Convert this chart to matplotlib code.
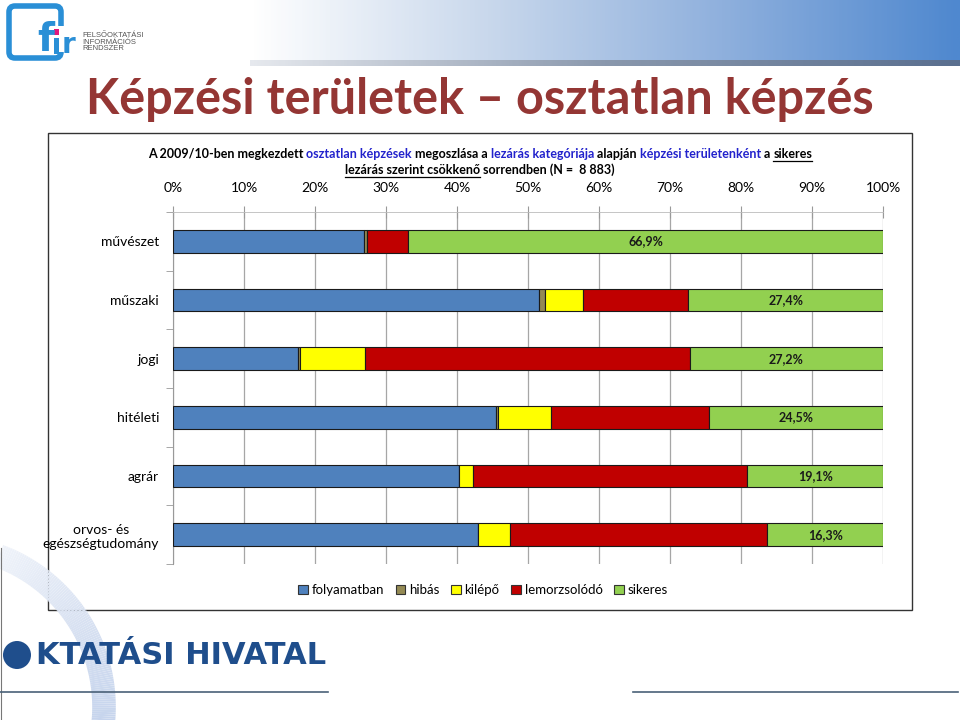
import numpy as np
import matplotlib
matplotlib.use("Agg")
import matplotlib.pyplot as plt
from matplotlib.patches import Rectangle, FancyBboxPatch, Circle, Patch
from matplotlib.collections import LineCollection
from matplotlib.colors import LinearSegmentedColormap

plt.rcParams['font.family'] = ['Lato', 'DejaVu Sans']

# adatok (százalék)
categories = ['művészet', 'műszaki', 'jogi', 'hitéleti', 'agrár', 'orvos- és\negészségtudomány']
folyamatban = [26.9, 51.5, 17.6, 45.5, 40.3, 43.0]
hibas = [0.4, 0.9, 0.3, 0.3, 0.0, 0.0]
kilepo = [0.0, 5.3, 9.1, 7.5, 2.0, 4.5]
lemorzsolodo = [5.8, 14.9, 45.8, 22.2, 38.6, 36.2]
sikeres = [66.9, 27.4, 27.2, 24.5, 19.1, 16.3]
series_names = ['folyamatban', 'hibás', 'kilépő', 'lemorzsolódó', 'sikeres']
series_colors = ['#4f81bd', '#948a54', '#ffff00', '#c00000', '#92d050']
xticks = np.arange(0, 101, 10)

W, H = 960, 720
fig = plt.figure(figsize=(9.6, 7.2), dpi=100, facecolor='white')


def fx(x):
    return x / W


def fy(y):
    return 1 - y / H


# háttér-réteg pixel koordinátákkal (díszítés)
bg = fig.add_axes([0, 0, 1, 1], zorder=-5)
bg.axis('off')

# fejléc: színátmenetes sáv
cmap = LinearSegmentedColormap.from_list('hdr', ['#ffffff', '#c9d8ec', '#8fb0dd', '#4f88cf'])
bg.imshow(np.linspace(0, 1, 300)[None, :], aspect='auto', cmap=cmap, extent=[250, 960, 60, 0])
cmap2 = LinearSegmentedColormap.from_list('sh', ['#e6e9ee', '#8a98ad', '#5a6f8f'])
bg.imshow(np.linspace(0, 1, 300)[None, :], aspect='auto', cmap=cmap2, extent=[250, 960, 66, 60])
bg.set_xlim(0, W)
bg.set_ylim(H, 0)

# logó
bg.add_patch(FancyBboxPatch((9, 6), 52, 52, boxstyle='round,pad=0,rounding_size=6',
                            facecolor='none', edgecolor='#2a8fd6', lw=4))
bg.add_patch(Rectangle((52, 26), 14, 26, facecolor='white', edgecolor='none'))
bg.text(46, 40, 'f', fontsize=28, fontweight='bold', color='#2a8fd6', ha='center', va='center',
        family=['DejaVu Sans'])
bg.add_patch(Rectangle((54, 38), 5, 16, facecolor='#2a8fd6', edgecolor='none'))
bg.add_patch(Rectangle((54, 29), 5, 6, facecolor='#e0197d', edgecolor='none'))
bg.text(69, 45, 'r', fontsize=20, fontweight='bold', color='#2a8fd6', ha='center', va='center',
        family=['DejaVu Sans'])
bg.text(82, 42, 'FELSŐOKTATÁSI\nINFORMÁCIÓS\nRENDSZER', fontsize=5.5, color='#555555',
        ha='left', va='center', linespacing=0.95, family=['Liberation Sans', 'DejaVu Sans'])

# cím
fig.text(fx(480), fy(99), 'Képzési területek – osztatlan képzés', fontsize=35, fontweight='bold',
         color='#943634', ha='center', va='center')

# lábléc díszítés: ív (színátmenettel)
th = np.linspace(-1.35, 0.2, 120)
px = -57 + 161 * np.cos(th)
py = 707 + 161 * np.sin(th)
segs = np.stack([np.column_stack([px[:-1], py[:-1]]), np.column_stack([px[1:], py[1:]])], axis=1)
arc_cmap = LinearSegmentedColormap.from_list('arc', ['#f3f6fb', '#d9e2f2', '#c3d2ec'])
lc = LineCollection(segs, cmap=arc_cmap, lw=17, capstyle='butt')
lc.set_array(np.linspace(0, 1, len(segs)))
bg.add_collection(lc)
bg.plot([0.5, 0.5], [548, 720], color='#777777', lw=0.8)
bg.add_patch(Circle((17, 655), 14, facecolor='#1f4e8c', edgecolor='none'))
bg.text(36, 656, 'KTATÁSI HIVATAL', fontsize=22, fontweight='bold', color='#1f4e8c',
        ha='left', va='center', family=['DejaVu Sans'])
bg.plot([0, 328], [692, 692], color='#4a6178', lw=1.2)
bg.plot([633, 958], [692, 692], color='#4a6178', lw=1.2)

# diagram kerete
bg.add_patch(Rectangle((48, 133), 864, 477, facecolor='none', edgecolor='#333333', lw=1.0))

# alcím színes szakaszokkal
renderer = fig.canvas.get_renderer()
blue_txt = '#2222cc'


def text_width(s, **kw):
    t = fig.text(0, 0, s + '|', **kw)
    w1 = t.get_window_extent(renderer).width
    t.remove()
    t = fig.text(0, 0, '|', **kw)
    w2 = t.get_window_extent(renderer).width
    t.remove()
    return w1 - w2


def draw_runs(runs, y, cx, **kw):
    full = ''.join(r[0] for r in runs)
    total = text_width(full, **kw)
    x0 = cx - total / 2
    prefix = ''
    for s, col, ul in runs:
        start = x0 + text_width(prefix, **kw)
        fig.text(fx(start), fy(y), s, color=col, ha='left', va='baseline', **kw)
        if ul:
            w = text_width(s, **kw)
            fig.add_artist(plt.Line2D([fx(start), fx(start + w)], [fy(y + 2.5), fy(y + 2.5)],
                                      transform=fig.transFigure, color=col, lw=0.9))
        prefix += s


sub_kw = dict(fontsize=9.0, fontweight='bold')
draw_runs([('A 2009/10-ben megkezdett ', 'black', False),
           ('osztatlan képzések', blue_txt, False),
           (' megoszlása a ', 'black', False),
           ('lezárás kategóriája', blue_txt, False),
           (' alapján ', 'black', False),
           ('képzési területenként', blue_txt, False),
           (' a ', 'black', False),
           ('sikeres', 'black', True)], 158, 480, **sub_kw)
draw_runs([('lezárás szerint csökkenő', 'black', True),
           (' sorrendben (N =  8 883)', 'black', False)], 174, 480, **sub_kw)

# a diagram
ax = fig.add_axes([fx(173), fy(564), fx(710), 352 / H])
ax.patch.set_alpha(0)
y = np.arange(len(categories))
data = [folyamatban, hibas, kilepo, lemorzsolodo, sikeres]
left = np.zeros(len(categories))
for vals, col in zip(data, series_colors):
    vals = np.array(vals)
    ax.barh(y, vals, left=left, height=0.39, color=col, edgecolor='#1a1a1a', lw=0.8, zorder=3)
    left += vals

green_left = np.array(folyamatban) + np.array(hibas) + np.array(kilepo) + np.array(lemorzsolodo)
for i, v in enumerate(sikeres):
    ax.text(green_left[i] + v / 2, y[i], f'{v:.1f}%'.replace('.', ','), ha='center', va='center',
            fontsize=9, fontweight='bold', color='#1a1a1a', zorder=4)

ax.set_xlim(0, 100)
ax.set_ylim(len(categories) - 0.5, -0.5)
ax.set_xticks(xticks)
ax.set_xticklabels([f'{v}%' for v in xticks])
ax.xaxis.tick_top()
ax.tick_params(axis='x', direction='inout', length=8, color='#999999', labelsize=10, pad=9)
ax.set_yticks(y)
ax.set_yticklabels(categories, fontsize=10, ha='right', multialignment='center')
ax.tick_params(axis='y', which='major', length=0, pad=10)
ax.set_yticks(np.arange(-0.5, len(categories), 1), minor=True)
ax.tick_params(axis='y', which='minor', length=5, color='#999999')
ax.grid(axis='x', color='#a6a6a6', lw=0.9, zorder=0)
for s in ['right', 'bottom']:
    ax.spines[s].set_visible(False)
ax.spines['left'].set_color('#999999')
ax.spines['top'].set_color('#bbbbbb')
ax.spines['top'].set_linewidth(0.6)

handles = [Patch(facecolor=c, edgecolor='#333333', lw=0.8) for c in series_colors]
fig.legend(handles, series_names, loc='center', bbox_to_anchor=(fx(483), fy(590)), ncol=5, frameon=False,
           fontsize=9.5, handlelength=0.7, handleheight=0.7, handletextpad=0.3, columnspacing=0.9)

fig.savefig('out.png', dpi=100, facecolor='white')
